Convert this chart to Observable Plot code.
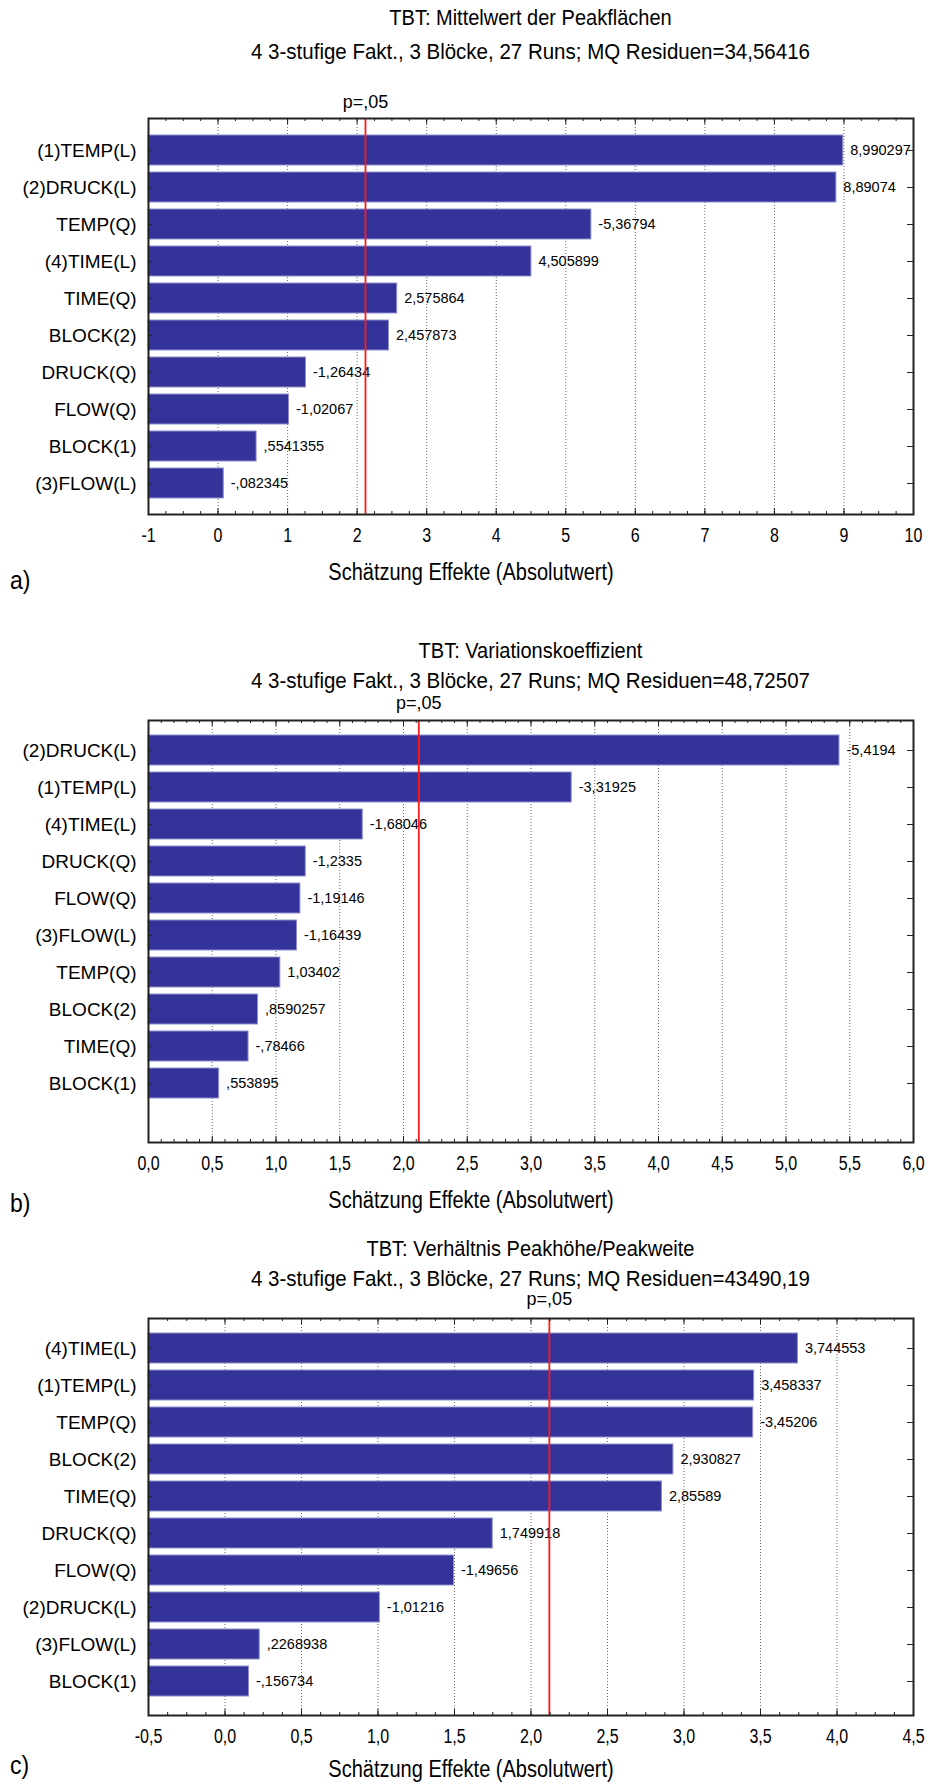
<!DOCTYPE html>
<html>
<head>
<meta charset="utf-8">
<script src="https://cdn.jsdelivr.net/npm/d3@7"></script>
<script src="https://cdn.jsdelivr.net/npm/@observablehq/plot@0.6"></script>
<style>
  html, body { margin: 0; padding: 0; background: #fff; }
  #page { position: relative; width: 928px; height: 1783px; overflow: hidden; font-family: "Liberation Sans", Arial, sans-serif; color: #000; }
  .title, .sub { position: absolute; left: 148px; width: 765px; text-align: center; font-size: 20px; line-height: 18px; white-space: nowrap; transform: scaleY(1.1); }
  .sub { font-size: 20.5px; }
  .panel { position: absolute; left: 10px; font-size: 23px; line-height: 26px; transform: scaleY(1.15); }
  .chart { position: absolute; left: 0; }
</style>
</head>
<body>
<div id="page"></div>
<script>
// ---------- data ----------
const catsA = ["(1)TEMP(L)", "(2)DRUCK(L)", "TEMP(Q)", "(4)TIME(L)", "TIME(Q)", "BLOCK(2)", "DRUCK(Q)", "FLOW(Q)", "BLOCK(1)", "(3)FLOW(L)"];
const valsA = [8.990297, 8.89074, -5.36794, 4.505899, 2.575864, 2.457873, -1.26434, -1.02067, 0.5541355, -0.082345];
const ticksA = [-1, 0, 1, 2, 3, 4, 5, 6, 7, 8, 9, 10];

const catsB = ["(2)DRUCK(L)", "(1)TEMP(L)", "(4)TIME(L)", "DRUCK(Q)", "FLOW(Q)", "(3)FLOW(L)", "TEMP(Q)", "BLOCK(2)", "TIME(Q)", "BLOCK(1)"];
const valsB = [-5.4194, -3.31925, -1.68046, -1.2335, -1.19146, -1.16439, 1.03402, 0.8590257, -0.78466, 0.553895];
const ticksB = [0, 0.5, 1, 1.5, 2, 2.5, 3, 3.5, 4, 4.5, 5, 5.5, 6];

const catsC = ["(4)TIME(L)", "(1)TEMP(L)", "TEMP(Q)", "BLOCK(2)", "TIME(Q)", "DRUCK(Q)", "FLOW(Q)", "(2)DRUCK(L)", "(3)FLOW(L)", "BLOCK(1)"];
const valsC = [3.744553, 3.458337, -3.45206, 2.930827, 2.85589, 1.749918, -1.49656, -1.01216, 0.2268938, -0.156734];
const ticksC = [-0.5, 0, 0.5, 1, 1.5, 2, 2.5, 3, 3.5, 4, 4.5];

const titles = ["TBT: Mittelwert der Peakflächen", "TBT: Variationskoeffizient", "TBT: Verhältnis Peakhöhe/Peakweite"];
const subtitles = [
  "4 3-stufige Fakt., 3 Blöcke, 27 Runs; MQ Residuen=34,56416",
  "4 3-stufige Fakt., 3 Blöcke, 27 Runs; MQ Residuen=48,72507",
  "4 3-stufige Fakt., 3 Blöcke, 27 Runs; MQ Residuen=43490,19"
];
const panelLabels = ["a)", "b)", "c)"];
const pLabel = "p=,05";
const pCrit = 2.12;
const xLabel = "Schätzung Effekte (Absolutwert)";

// ---------- helpers ----------
const fmtVal = v => String(v).replace(/^(-?)0\./, "$1.").replace(".", ",");
const fmtInt = v => String(v);
const fmt1 = v => v.toFixed(1).replace(".", ",");

const page = document.getElementById("page");
function addDiv(cls, text, top) {
  const d = document.createElement("div");
  d.className = cls; d.textContent = text; d.style.top = top + "px";
  page.appendChild(d);
}
// stretch a rendered text vertically about its own centre (svg must be in the document)
function stretch(svg, t, sy) {
  const r = t.getBoundingClientRect();
  const parent = t.parentNode;
  const pt = svg.createSVGPoint();
  pt.x = r.left + r.width / 2; pt.y = r.top + r.height / 2;
  const local = pt.matrixTransform(parent.getScreenCTM().inverse());
  const g = document.createElementNS("http://www.w3.org/2000/svg", "g");
  g.setAttribute("transform", `translate(0,${local.y}) scale(1,${sy}) translate(0,${-local.y})`);
  parent.insertBefore(g, t);
  g.appendChild(t);
}

const W = 928, ML = 148, MR = 15, MT = 33;
const frameW = W - ML - MR;
const barFill = "#333399", barEdge = "#8f8fcf";

function chart({cats, vals, ticks, minorStep, tickFmt, svgTop, frameH, c0, mb, pdy, ldy, title, sub, titleTop, subTop, panel, panelTop}) {
  const data = cats.map((name, i) => ({name, value: vals[i]}));
  const xmin = ticks[0], xmax = ticks[ticks.length - 1];
  const step = 37.5;
  const r0 = (c0 - svgTop) - step / 2;
  const minor = d3.range(Math.round((xmax - xmin) / minorStep) + 1).map(i => xmin + i * minorStep);
  const inner = ticks.slice(1, -1);
  const height = MT + frameH + mb;
  const svg = Plot.plot({
    width: W, height,
    marginLeft: ML, marginRight: MR, marginTop: MT, marginBottom: mb,
    style: {fontFamily: "'Liberation Sans', Arial, sans-serif", fontSize: "16px", background: "transparent", overflow: "visible", color: "#000"},
    x: {domain: [xmin, xmax]},
    y: {type: "band", domain: cats, range: [r0, r0 + step * cats.length], paddingInner: 0.2, paddingOuter: 0.1},
    marks: [
      Plot.gridX(inner, {stroke: "#666", strokeOpacity: 1, strokeDasharray: "1,2", strokeWidth: 1}),
      Plot.barX(data, {x1: () => xmin, x2: d => Math.abs(d.value), y: "name", fill: barFill, stroke: barEdge, strokeWidth: 1}),
      Plot.text(data, {x: d => Math.abs(d.value), y: "name", text: d => fmtVal(d.value), textAnchor: "start", dx: 7, fontSize: 14.5, fill: "#000"}),
      Plot.ruleX([pCrit], {stroke: "#ff1a1a", strokeWidth: 1.8}),
      Plot.text([pCrit], {x: d => d, frameAnchor: "top", lineAnchor: "middle", dy: pdy, text: () => pLabel, fontSize: 18, fill: "#000"}),
      // inward ticks on bottom and top edges
      Plot.tickX(minor, {x: d => d, insetTop: frameH - 3, stroke: "#222"}),
      Plot.tickX(minor, {x: d => d, insetBottom: frameH - 3, stroke: "#222"}),
      Plot.tickX(ticks, {x: d => d, insetTop: frameH - 6, stroke: "#222"}),
      Plot.tickX(ticks, {x: d => d, insetBottom: frameH - 6, stroke: "#222"}),
      // inward ticks on left and right edges
      Plot.tickY(cats, {y: d => d, insetRight: frameW - 4, stroke: "#222"}),
      Plot.tickY(cats, {y: d => d, insetLeft: frameW - 6, stroke: "#222"}),
      Plot.axisX(ticks, {anchor: "bottom", tickSize: 0, tickPadding: 14, tickFormat: tickFmt, fontSize: 16, label: null}),
      Plot.axisY({tickSize: 0, tickPadding: 12, fontSize: 19, label: null}),
      Plot.text([xLabel], {frameAnchor: "bottom", lineAnchor: "middle", dy: ldy, dx: -60, text: d => d, fontSize: 20, fill: "#000"}),
      Plot.frame({stroke: "#222", strokeWidth: 2})
    ]
  });
  svg.classList.add("chart");
  svg.style.top = svgTop + "px";
  page.appendChild(svg);
  try {
    svg.querySelectorAll('g[aria-label="x-axis tick label"] text').forEach(t => stretch(svg, t, 1.3));
    Array.from(svg.querySelectorAll("text"))
      .filter(t => t.textContent === xLabel)
      .forEach(t => stretch(svg, t, 1.15));
  } catch (e) { /* keep unstretched text if measuring fails */ }
  addDiv("title", title, titleTop);
  addDiv("sub", sub, subTop);
  addDiv("panel", panel, panelTop);
}

chart({cats: catsA, vals: valsA, ticks: ticksA, minorStep: 0.25, tickFmt: fmtInt,
  svgTop: 85, frameH: 396, c0: 148, mb: 75, pdy: -16, ldy: 58,
  title: titles[0], sub: subtitles[0], titleTop: 8, subTop: 42, panel: panelLabels[0], panelTop: 567});

chart({cats: catsB, vals: valsB, ticks: ticksB, minorStep: 0.1, tickFmt: fmt1,
  svgTop: 687, frameH: 422, c0: 748, mb: 75, pdy: -17, ldy: 58,
  title: titles[1], sub: subtitles[1], titleTop: 641, subTop: 671, panel: panelLabels[1], panelTop: 1190});

chart({cats: catsC, vals: valsC, ticks: ticksC, minorStep: 0.125, tickFmt: fmt1,
  svgTop: 1285, frameH: 397, c0: 1346, mb: 68, pdy: -19, ldy: 54,
  title: titles[2], sub: subtitles[2], titleTop: 1239, subTop: 1269, panel: panelLabels[2], panelTop: 1752});
</script>
</body>
</html>
